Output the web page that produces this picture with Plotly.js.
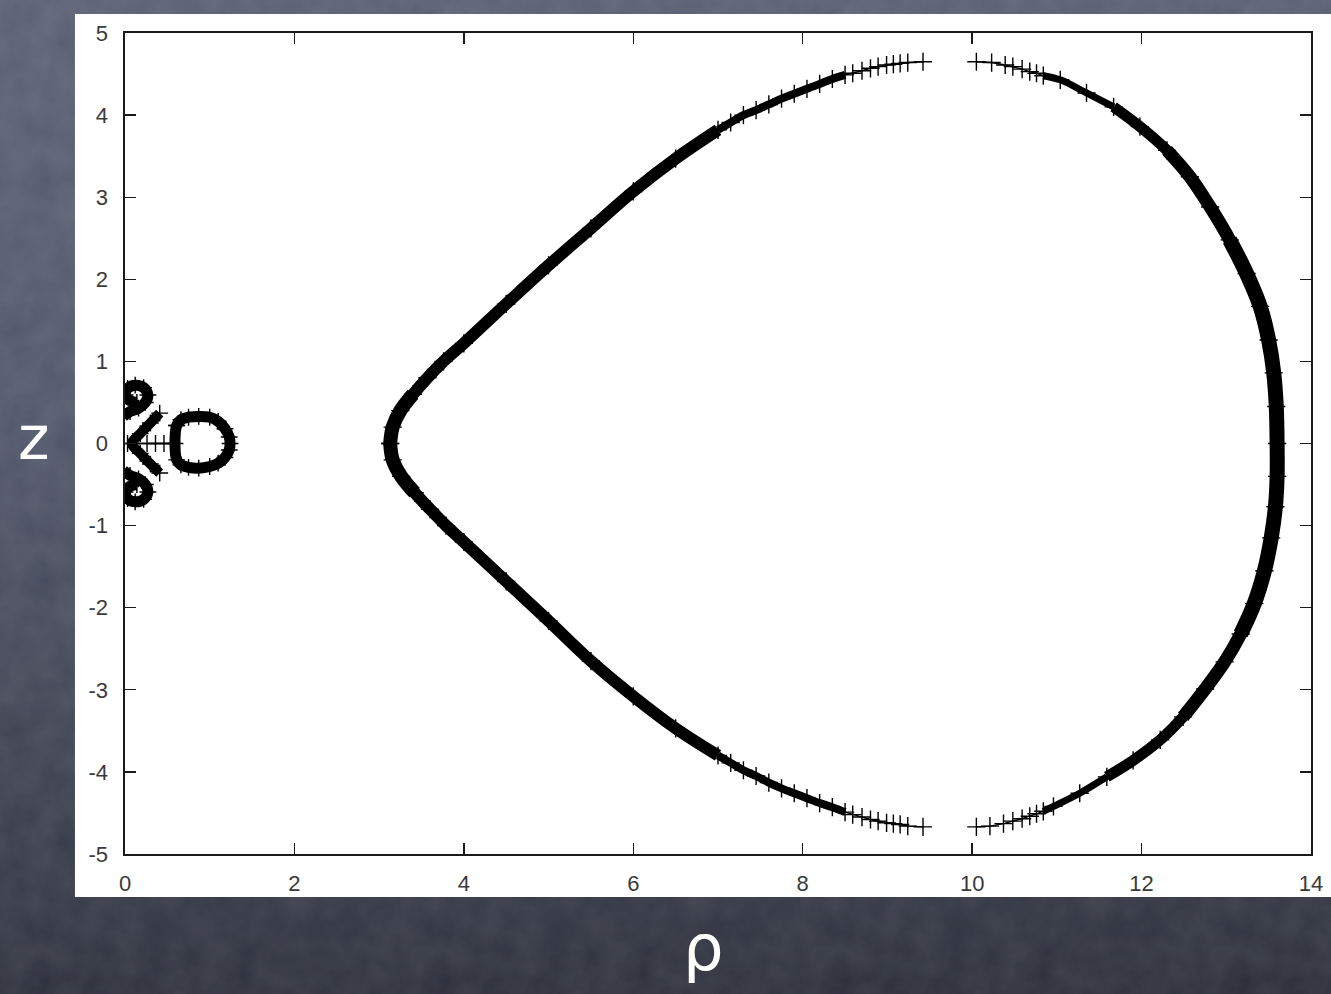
<!DOCTYPE html>
<html>
<head>
<meta charset="utf-8">
<script src="https://cdn.plot.ly/plotly-3.0.1.min.js"></script>
<style>
  html, body { margin: 0; padding: 0; width: 1331px; height: 994px; overflow: hidden; }
  body {
    background-color: #454a5a;
    background-image:
      url("data:image/svg+xml;utf8,<svg xmlns='http://www.w3.org/2000/svg' width='400' height='400'><filter id='n'><feTurbulence type='fractalNoise' baseFrequency='0.035' numOctaves='4' stitchTiles='stitch'/><feColorMatrix values='0 0 0 0 1  0 0 0 0 1  0 0 0 0 1  0 0 0 0.10 0'/></filter><rect width='100%' height='100%' filter='url(%23n)'/></svg>"),
      linear-gradient(178deg, #5a6073 0%, #51576a 40%, #3d4150 75%, #2b2e39 100%);
  }
  #chart { width: 1331px; height: 994px; }
</style>
</head>
<body>
<div id="chart"></div>
<script>
// Separatrix of the orbit in the (rho, z) plane, traced point by point.

// Upper-left branch: from the inner tip up to the top gap
const ulRho = [3.13, 3.16, 3.25, 3.40, 3.57, 3.76, 4.00, 4.50, 5.00, 5.50, 6.00, 6.50, 7.00,
               7.15, 7.30, 7.45, 7.60, 7.75, 7.90, 8.05, 8.20, 8.35, 8.50,
               8.59, 8.70, 8.80, 8.89, 8.99, 9.07, 9.15, 9.24, 9.42];
const ulZ   = [0.00, 0.20, 0.40, 0.60, 0.80, 1.00, 1.22, 1.70, 2.17, 2.62, 3.07, 3.47, 3.82,
               3.91, 4.00, 4.06, 4.13, 4.20, 4.26, 4.32, 4.38, 4.44, 4.49,
               4.51, 4.54, 4.57, 4.59, 4.61, 4.62, 4.63, 4.64, 4.65];

// Lower-left branch: from the inner tip down to the bottom gap
const llRho = [3.13, 3.16, 3.26, 3.42, 3.60, 3.79, 4.00, 4.50, 5.00, 5.50, 6.00, 6.50, 7.00,
               7.15, 7.30, 7.45, 7.60, 7.75, 7.90, 8.05, 8.20, 8.35, 8.50,
               8.59, 8.70, 8.80, 8.89, 8.99, 9.07, 9.15, 9.24, 9.42];
const llZ   = [0.00, -0.20, -0.40, -0.60, -0.80, -1.00, -1.20, -1.68, -2.16, -2.65, -3.08, -3.47, -3.80,
               -3.89, -3.98, -4.05, -4.13, -4.20, -4.26, -4.32, -4.38, -4.43, -4.49,
               -4.52, -4.55, -4.58, -4.60, -4.62, -4.63, -4.64, -4.66, -4.67];

// Outer branch: from the top gap round to the bottom gap
const rRho = [10.05, 10.23, 10.39, 10.48, 10.59, 10.68, 10.76, 10.84, 11.04, 11.35, 11.67, 11.98,
              12.30, 12.57, 12.81, 13.04, 13.24, 13.40, 13.50, 13.56, 13.59, 13.60, 13.60, 13.58,
              13.53, 13.45, 13.33, 13.17, 12.98, 12.75, 12.49, 12.22, 11.90, 11.59, 11.27, 10.96,
              10.84, 10.76, 10.68, 10.59, 10.48, 10.37, 10.21, 10.05];
const rZ   = [4.65, 4.64, 4.61, 4.59, 4.56, 4.53, 4.51, 4.48, 4.43, 4.27, 4.10, 3.86,
              3.57, 3.25, 2.88, 2.48, 2.07, 1.67, 1.26, 0.86, 0.45, 0.00, -0.40, -0.77,
              -1.15, -1.55, -1.95, -2.32, -2.66, -2.99, -3.33, -3.61, -3.86, -4.06, -4.26, -4.42,
              -4.48, -4.51, -4.54, -4.57, -4.60, -4.63, -4.66, -4.67];

// Small structures next to the axis
const lobeUpRho = [-0.02, 0.06, 0.16, 0.24, 0.27, 0.22, 0.12, 0.03, 0.00, 0.06, 0.14];
const lobeUpZ   = [0.33, 0.39, 0.43, 0.50, 0.59, 0.68, 0.71, 0.67, 0.59, 0.52, 0.50];
const lobeDnRho = [-0.02, 0.06, 0.16, 0.24, 0.27, 0.22, 0.12, 0.03, 0.00, 0.06, 0.14];
const lobeDnZ   = [-0.33, -0.39, -0.43, -0.50, -0.59, -0.68, -0.71, -0.67, -0.59, -0.52, -0.50];
const chevRho = [0.41, 0.30, 0.18, 0.08, 0.18, 0.30, 0.41];
const chevZ   = [0.37, 0.25, 0.12, 0.00, -0.12, -0.25, -0.36];
const barRho  = [0.03, 0.26, 0.36, 0.46, 0.54];
const barZ    = [0.00, 0.00, 0.00, 0.00, 0.00];
const ringRho = [0.61, 0.66, 0.75, 0.87, 1.00, 1.10, 1.18, 1.23, 1.24, 1.23, 1.18, 1.10, 1.00, 0.87, 0.75, 0.66, 0.61, 0.59, 0.61];
const ringZ   = [0.22, 0.29, 0.32, 0.33, 0.32, 0.27, 0.18, 0.08, 0.00, -0.08, -0.17, -0.24, -0.28, -0.30, -0.29, -0.26, -0.20, 0.00, 0.22];

const xTicks = [0, 2, 4, 6, 8, 10, 12, 14];
const yTicks = [-5, -4, -3, -2, -1, 0, 1, 2, 3, 4, 5];

function band(x, y, w, a, b) {
  return { x: x.slice(a, b), y: y.slice(a, b), type: 'scatter', mode: 'lines', hoverinfo: 'skip', showlegend: false,
           line: { color: '#000', width: w, shape: 'spline', smoothing: 1 } };
}
function crosses(x, y, size) {
  return { x: x, y: y, type: 'scatter', mode: 'markers', hoverinfo: 'skip', showlegend: false,
           marker: { symbol: 'cross-thin', size: size, color: '#000', line: { color: '#000', width: 1.4 } } };
}
function thin(x, y, a, b) {
  return { x: x.slice(a, b), y: y.slice(a, b), type: 'scatter', mode: 'lines', hoverinfo: 'skip', showlegend: false,
           line: { color: '#000', width: 1.4 } };
}

const traces = [
  // inner branches, a little heavier round the tip
  band(ulRho, ulZ, 12, 0, 13), band(ulRho, ulZ, 8, 12, 23), thin(ulRho, ulZ, 22),
  band(llRho, llZ, 12, 0, 13), band(llRho, llZ, 8, 12, 23), thin(llRho, llZ, 22),
  band(ulRho, ulZ, 14, 0, 4), band(llRho, llZ, 14, 0, 4),
  // outer branch, thicker where the points pile up
  thin(rRho, rZ, 0, 8), band(rRho, rZ, 7, 7, 11), band(rRho, rZ, 11, 10, 34),
  band(rRho, rZ, 13, 12, 31), band(rRho, rZ, 15, 15, 28), band(rRho, rZ, 7, 33, 37), thin(rRho, rZ, 36),
  crosses(ulRho, ulZ, 13), crosses(llRho, llZ, 13), crosses(rRho, rZ, 13),
  // structures near the axis
  band(lobeUpRho, lobeUpZ, 11), band(lobeDnRho, lobeDnZ, 11),
  band(chevRho, chevZ, 10), thin(barRho, barZ), band(ringRho, ringZ, 11),
  crosses(lobeUpRho, lobeUpZ, 12), crosses(lobeDnRho, lobeDnZ, 12),
  crosses(chevRho, chevZ, 12), crosses(barRho, barZ, 12), crosses(ringRho, ringZ, 12)
];

const axisCommon = {
  showgrid: false, zeroline: false, showline: true, linecolor: '#1a1a1a', linewidth: 1.6,
  mirror: 'allticks', ticks: 'inside', ticklen: 11, tickwidth: 1.4, tickcolor: '#1a1a1a',
  tickfont: { family: 'Liberation Sans, Arial, sans-serif', size: 22, color: '#3a3a3a' },
  fixedrange: true
};

const layout = {
  width: 1331, height: 994,
  margin: { l: 125, r: 20, t: 33, b: 140 },
  paper_bgcolor: 'rgba(0,0,0,0)',
  plot_bgcolor: '#ffffff',
  showlegend: false,
  xaxis: Object.assign({}, axisCommon, {
    range: [0, 14], tickmode: 'array', tickvals: xTicks, ticktext: xTicks.map(String),
    ticklabelstandoff: 9
  }),
  yaxis: Object.assign({}, axisCommon, {
    range: [-5, 5], tickmode: 'array', tickvals: yTicks, ticktext: yTicks.map(String),
    ticklabelstandoff: 11
  }),
  shapes: [{
    type: 'rect', xref: 'paper', yref: 'paper', layer: 'below',
    x0: -0.0422, x1: 1.0169, y0: -0.0524, y1: 1.0231,
    fillcolor: '#ffffff', line: { width: 0 }
  }],
  annotations: [
    { text: 'z', xref: 'paper', yref: 'paper', x: -0.077, y: 0.507,
      xanchor: 'center', yanchor: 'middle', showarrow: false,
      font: { family: 'DejaVu Sans, sans-serif', size: 60, color: '#ffffff' } },
    { text: 'ρ', xref: 'paper', yref: 'paper', x: 0.488, y: -0.1145,
      xanchor: 'center', yanchor: 'middle', showarrow: false,
      font: { family: 'DejaVu Sans, sans-serif', size: 64, color: '#ffffff' } }
  ]
};

Plotly.newPlot('chart', traces, layout, { displayModeBar: false, staticPlot: true });
</script>
</body>
</html>
